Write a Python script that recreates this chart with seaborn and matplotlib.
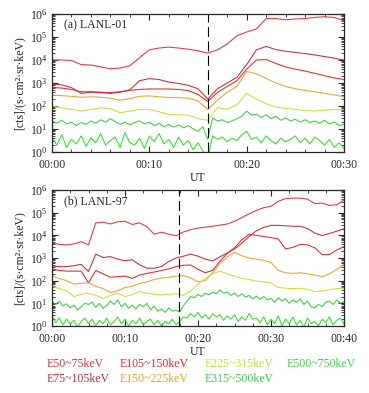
import numpy as np
import pandas as pd
import matplotlib
matplotlib.use("Agg")
import matplotlib.pyplot as plt
import seaborn as sns
from matplotlib.ticker import FixedLocator, LogLocator, NullFormatter

# Energy channels and colours
bands = ["E50~75keV", "E75~105keV", "E105~150keV", "E150~225keV",
         "E225~315keV", "E315~500keV", "E500~750keV"]
band_colors = ["#e8303c", "#cc2838", "#e02828", "#f0a030",
               "#c8e038", "#38d040", "#30e030"]

# Panel (a) LANL-01, log10 flux, 1-minute grid (smooth channels)
t_a = list(range(0, 31))
a_e50 = [4.00, 4.00, 3.98, 3.80, 3.78, 3.70, 3.62, 3.65, 3.75, 4.10, 4.44,
         4.52, 4.56, 4.52, 4.47, 4.40, 4.30, 4.44, 4.70, 5.05, 5.22, 5.35,
         5.80, 5.80, 5.75, 5.78, 5.80, 5.85, 5.88, 5.85, 5.70]
a_e75 = [2.96, 2.92, 2.80, 2.55, 2.60, 2.58, 2.55, 2.60, 2.70, 3.10, 3.19,
         3.15, 3.04, 2.98, 2.90, 2.75, 2.30, 2.75, 3.00, 3.25, 3.80, 4.44,
         4.59, 4.45, 4.38, 4.33, 4.28, 4.22, 4.15, 4.08, 4.00]
a_e105 = [2.80, 2.78, 2.72, 2.62, 2.62, 2.60, 2.58, 2.62, 2.68, 2.72, 2.74,
          2.74, 2.74, 2.72, 2.67, 2.50, 2.20, 2.59, 2.85, 3.10, 3.60, 4.00,
          4.02, 3.85, 3.70, 3.60, 3.52, 3.42, 3.32, 3.22, 3.15]
a_e150 = [2.47, 2.45, 2.42, 2.38, 2.40, 2.38, 2.34, 2.25, 2.32, 2.42, 2.44,
          2.40, 2.37, 2.36, 2.34, 2.22, 1.85, 2.25, 2.60, 2.85, 3.50, 3.40,
          3.20, 3.00, 2.85, 2.75, 2.68, 2.62, 2.55, 2.48, 2.40]
a_e225 = [2.00, 1.92, 1.85, 1.78, 1.85, 1.92, 1.88, 1.70, 1.78, 1.85, 1.85,
          1.75, 1.63, 1.62, 1.60, 1.45, 1.38, 1.93, 1.85, 2.05, 2.55, 2.30,
          2.10, 1.95, 1.90, 1.85, 1.80, 1.78, 1.82, 1.85, 1.85]
# half-minute grid (noisy channels)
t_a_fine = [i * 0.5 for i in range(61)]
a_e315 = [1.35, 1.25, 1.38, 1.22, 1.30, 1.15, 1.28, 1.20, 1.35, 1.25, 1.40,
          1.30, 1.45, 1.32, 1.20, 1.30, 1.18, 1.28, 1.35, 1.22, 1.30, 1.15,
          1.25, 1.10, 1.20, 1.08, 1.18, 1.05, 1.15, 1.00, 0.90, 1.10, 0.55,
          1.48, 1.35, 1.40, 1.28, 1.35, 1.45, 1.55, 1.78, 1.60, 1.65, 1.50,
          1.62, 1.45, 1.55, 1.38, 1.48, 1.35, 1.42, 1.30, 1.40, 1.28, 1.35,
          1.25, 1.38, 1.22, 1.30, 1.15, 1.20]
a_e500 = [0.60, 0.30, 0.75, 0.20, 0.55, 0.35, 0.70, 0.25, 0.62, 0.40, 0.80,
          0.30, 0.50, 0.65, 0.20, 0.85, 0.40, 0.30, 0.60, 0.15, 0.70, 0.45,
          0.80, 0.35, 0.55, 0.20, 0.65, 0.30, 0.50, 0.10, 0.40, 0.05, -0.30,
          0.70, 0.55, 0.65, 0.45, 0.60, 0.50, 0.75, 0.90, 0.55, 0.65, 0.40,
          0.70, 0.50, 0.35, 0.60, 0.45, 0.55, 0.70, 0.40, 0.60, 0.35, 0.65,
          0.50, 0.30, 0.55, 0.20, 0.40, 0.15]

# Panel (b) LANL-97
t_b = list(range(0, 41))
b_e50 = [3.66, 3.60, 3.58, 3.62, 3.72, 3.58, 4.55, 4.58, 4.50, 4.60, 4.62,
         4.48, 4.55, 4.38, 4.05, 4.14, 4.05, 3.98, 4.15, 4.25, 4.32, 4.36,
         4.40, 4.45, 4.50, 4.62, 4.78, 4.95, 5.10, 5.22, 5.28, 5.50, 5.62,
         5.64, 5.64, 5.60, 5.40, 5.42, 5.32, 5.35, 5.56]
b_e75 = [2.65, 2.62, 2.62, 2.66, 2.72, 2.40, 3.17, 3.02, 3.06, 2.95, 2.88,
         2.92, 2.70, 2.55, 2.55, 2.62, 2.85, 3.00, 3.08, 3.17, 3.08, 2.95,
         2.87, 3.05, 3.22, 3.40, 3.65, 3.95, 4.20, 4.35, 4.44, 4.44, 4.42,
         4.40, 4.40, 4.30, 4.10, 3.99, 4.08, 4.18, 4.29]
b_e105 = [2.52, 2.45, 2.42, 2.42, 2.42, 1.90, 2.45, 2.30, 2.15, 2.18, 2.20,
          2.10, 2.25, 2.32, 2.38, 2.45, 2.52, 2.62, 2.68, 2.69, 2.50, 2.35,
          2.45, 2.85, 3.20, 3.45, 3.80, 4.05, 4.00, 3.95, 3.90, 3.84, 3.40,
          3.47, 3.60, 3.58, 3.45, 3.15, 3.15, 3.35, 3.50]
b_e150 = [2.20, 2.10, 2.00, 1.85, 1.88, 1.90, 1.75, 1.65, 1.48, 1.55, 1.70,
          1.75, 1.88, 1.95, 2.05, 2.12, 2.15, 2.20, 2.22, 2.12, 1.95, 2.00,
          2.35, 2.75, 3.05, 3.25, 3.10, 3.00, 2.95, 2.90, 2.80, 2.45, 2.35,
          2.32, 2.35, 2.30, 2.25, 2.17, 2.30, 2.50, 2.72]
b_e225 = [1.75, 1.65, 1.55, 1.30, 1.40, 1.45, 1.35, 1.22, 1.35, 1.45, 1.30,
          1.38, 1.52, 1.45, 1.40, 1.37, 1.40, 1.42, 1.35, 1.55, 1.85, 2.10,
          2.30, 2.42, 2.30, 2.20, 2.10, 2.05, 1.98, 1.95, 1.90, 1.70, 1.67,
          1.65, 1.67, 1.62, 1.52, 1.55, 1.60, 1.65, 1.67]
t_b_fine = [i * 0.5 for i in range(81)]
b_e315 = [1.08, 0.95, 1.10, 0.88, 0.98, 0.80, 0.92, 0.70, 0.85, 1.00, 0.95,
          1.05, 0.82, 1.00, 0.78, 0.90, 1.10, 0.95, 1.15, 0.85, 1.00, 0.78,
          0.92, 0.75, 0.95, 0.85, 1.00, 0.72, 0.88, 0.65, 0.75, 0.60, 0.80,
          0.65, 0.70, 0.62, 0.90, 1.10, 1.30, 1.25, 1.40, 1.30, 1.45, 1.38,
          1.50, 1.42, 1.60, 1.45, 1.50, 1.35, 1.45, 1.30, 1.42, 1.28, 1.35,
          1.20, 1.32, 1.18, 1.30, 1.15, 1.22, 1.05, 1.25, 1.10, 1.20, 1.00,
          1.15, 1.05, 1.20, 0.95, 1.10, 0.85, 0.80, 0.95, 0.85, 1.05, 1.10,
          0.95, 1.15, 1.00, 1.08]
b_e500 = [0.45, 0.15, 0.35, 0.05, 0.30, 0.10, 0.25, -0.05, 0.20, 0.35, 0.10,
          0.30, 0.00, 0.25, 0.10, 0.35, 0.05, 0.20, 0.40, 0.10, 0.30, 0.00,
          0.25, 0.10, 0.35, 0.05, 0.20, 0.30, 0.05, 0.25, 0.00, 0.20, 0.10,
          0.30, 0.05, 0.20, 0.40, 0.35, 0.55, 0.40, 0.60, 0.35, 0.50, 0.30,
          0.55, 0.40, 0.50, 0.25, 0.45, 0.30, 0.50, 0.20, 0.40, 0.25, 0.55,
          0.30, 0.35, 0.15, 0.40, 0.05, 0.30, 0.10, 0.45, 0.00, 0.30, 0.10,
          0.40, 0.05, 0.25, -0.05, 0.35, 0.10, 0.20, 0.00, 0.30, 0.15, 0.40,
          0.05, 0.25, 0.35, 0.10]

onset_a = 16.0
onset_b = 17.4
xticks_a = [0, 10, 20, 30]
xlabels_a = ["00:00", "00:10", "00:20", "00:30"]
xticks_b = [0, 10, 20, 30, 40]
xlabels_b = ["00:00", "00:10", "00:20", "00:30", "00:40"]


def long_frame(times, series):
    rows = []
    for band, (tt, vals) in zip(bands, zip(times, series)):
        for t, v in zip(tt, vals):
            rows.append((band, t, 10.0 ** v))
    return pd.DataFrame(rows, columns=["band", "t", "flux"])


df_a = long_frame([t_a] * 5 + [t_a_fine] * 2,
                  [a_e50, a_e75, a_e105, a_e150, a_e225, a_e315, a_e500])
df_b = long_frame([t_b] * 5 + [t_b_fine] * 2,
                  [b_e50, b_e75, b_e105, b_e150, b_e225, b_e315, b_e500])

sns.set_style("ticks")
plt.rcParams["font.family"] = ["Liberation Serif", "DejaVu Serif"]
plt.rcParams["mathtext.fontset"] = "stix"
plt.rcParams["xtick.direction"] = "in"
plt.rcParams["ytick.direction"] = "in"

fig = plt.figure(figsize=(3.69, 3.93), dpi=100)
ax_a = fig.add_axes([52 / 369, 1 - 152 / 393, 292 / 369, 138 / 393])
ax_b = fig.add_axes([52 / 369, 1 - 326 / 393, 292 / 369, 136 / 393])

palette = dict(zip(bands, band_colors))
panels = [
    (ax_a, df_a, 30, onset_a, xticks_a, xlabels_a, 2, "(a) LANL-01"),
    (ax_b, df_b, 40, onset_b, xticks_b, xlabels_b, 2.5, "(b) LANL-97"),
]
for ax, df, tmax, onset, xt, xl, minor, title in panels:
    ax.set_yscale("log")
    sns.lineplot(data=df, x="t", y="flux", hue="band", palette=palette,
                 hue_order=bands, legend=False, estimator=None,
                 linewidth=0.75, ax=ax)
    ax.axvline(onset, color="black", lw=0.8, ls=(0, (9, 4)))
    ax.set_xlim(0, tmax)
    ax.set_ylim(1, 1e6)
    ax.xaxis.set_major_locator(FixedLocator(xt))
    ax.set_xticklabels(xl)
    ax.xaxis.set_minor_locator(FixedLocator(np.arange(0, tmax + 0.01, minor)))
    ax.yaxis.set_major_locator(LogLocator(base=10, numticks=10))
    ax.yaxis.set_minor_locator(LogLocator(base=10, subs=np.arange(2, 10), numticks=10))
    ax.yaxis.set_minor_formatter(NullFormatter())
    ax.tick_params(which="both", top=True, right=True, labelsize=8.5)
    ax.tick_params(axis="x", pad=5)
    ax.tick_params(axis="y", pad=3)
    ax.tick_params(which="major", length=4, width=0.8)
    ax.tick_params(which="minor", length=2, width=0.6)
    for s in ax.spines.values():
        s.set_linewidth(0.9)
    ax.set_xlabel("UT", fontsize=8.5, labelpad=1)
    ax.set_ylabel("[cts]/(s·cm²·sr·keV)", fontsize=8.5, labelpad=3)
    ax.text(0.04, 0.92, title, transform=ax.transAxes, fontsize=8.5,
            va="center", ha="left")

# Colour-coded channel legend below panel (b)
legend_pos = [(47, 364), (47, 379), (120, 364), (120, 379),
              (205, 364), (205, 379), (287, 364)]
for band, col, (px, py) in zip(bands, band_colors, legend_pos):
    fig.text(px / 369, 1 - py / 393, band, color=col, fontsize=8.5,
             ha="left", va="center")

fig.savefig("out.png", dpi=100)
